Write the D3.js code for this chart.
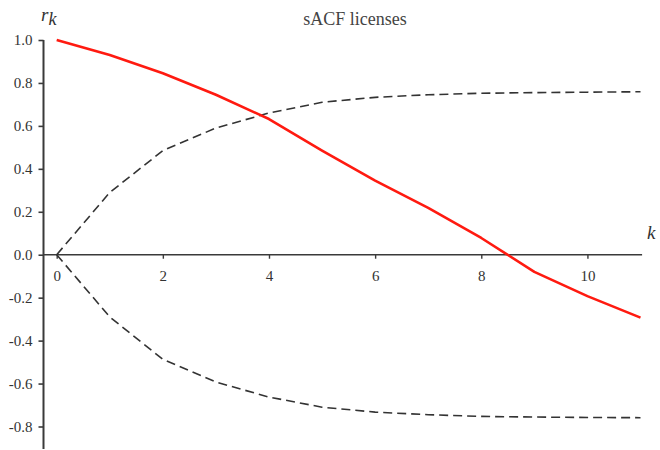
<!DOCTYPE html>
<html>
<head>
<meta charset="utf-8">
<script src="https://cdn.jsdelivr.net/npm/d3@7"></script>
<style>
  html, body { margin: 0; padding: 0; background: #fff; }
  svg { display: block; }
  text { font-family: "Liberation Serif", "Times New Roman", serif; }
</style>
</head>
<body>
<svg id="chart" width="660" height="450"></svg>
<script>
// Sample autocorrelation of licenses, lags 0..11
const lags = [0, 1, 2, 3, 4, 5, 6, 7, 8, 9, 10, 11];
const acf = [1.0, 0.93, 0.845, 0.745, 0.632, 0.485, 0.345, 0.218, 0.078, -0.08, -0.193, -0.293];
// Approximate confidence bounds
const upperBound = [0, 0.29, 0.485, 0.59, 0.66, 0.71, 0.733, 0.745, 0.752, 0.755, 0.757, 0.759];
const lowerBound = [0, -0.29, -0.487, -0.593, -0.663, -0.71, -0.733, -0.745, -0.753, -0.756, -0.758, -0.759];
const xTicks = [0, 2, 4, 6, 8, 10];
const yTicks = [1.0, 0.8, 0.6, 0.4, 0.2, 0.0, -0.2, -0.4, -0.6, -0.8];

const svg = d3.select("#chart");
const x = d3.scaleLinear().domain([0, 11]).range([56.7, 640.5]);
const y = d3.scaleLinear().domain([-0.8, 1.0]).range([426.5, 40]);

const axisColor = "#3a3a3a";
const labelColor = "#333";
const serif = "'Liberation Serif', 'Times New Roman', serif";
const fmtY = d => d3.format(".1f")(d).replace("\u2212", "-");

// Vertical axis
const yAxis = svg.append("g").attr("transform", `translate(${43.5},0)`)
  .call(d3.axisLeft(y).tickValues(yTicks).tickSize(5).tickPadding(6).tickFormat(fmtY))
  .attr("font-family", serif)
  .attr("font-size", 15);
yAxis.select(".domain").remove();
yAxis.append("line")
  .attr("x1", 0).attr("x2", 0)
  .attr("y1", y(1.0)).attr("y2", y(-0.905))
  .attr("stroke", axisColor).attr("stroke-width", 2);
yAxis.selectAll(".tick line").attr("stroke", axisColor).attr("stroke-width", 1.6);
yAxis.selectAll(".tick text").attr("fill", labelColor);

// Horizontal axis through zero
const xAxis = svg.append("g").attr("transform", `translate(0,${y(0)})`)
  .call(d3.axisBottom(x).tickValues(xTicks).tickSize(4).tickPadding(12)
    .tickFormat(d3.format("d")))
  .attr("font-family", serif)
  .attr("font-size", 15);
xAxis.select(".domain").remove();
xAxis.append("line")
  .attr("x1", 43.5).attr("x2", x(11.03))
  .attr("y1", 0).attr("y2", 0)
  .attr("stroke", axisColor).attr("stroke-width", 1.5);
xAxis.selectAll(".tick line").attr("stroke", axisColor).attr("stroke-width", 1.4);
xAxis.selectAll(".tick text").attr("fill", labelColor);

// Confidence bounds
const line = d3.line().x((d, i) => x(lags[i])).y(d => y(d));
[upperBound, lowerBound].forEach(b => {
  svg.append("path")
    .datum(b)
    .attr("d", line)
    .attr("fill", "none")
    .attr("stroke", "#333")
    .attr("stroke-width", 1.6)
    .attr("stroke-dasharray", "9,5");
});

// Autocorrelation line
svg.append("path")
  .datum(acf)
  .attr("d", line)
  .attr("fill", "none")
  .attr("stroke", "#ff1a10")
  .attr("stroke-width", 2.6)
  .attr("stroke-linejoin", "round");

// Title
svg.append("text")
  .attr("x", 355).attr("y", 25)
  .attr("text-anchor", "middle")
  .attr("fill", "#444")
  .style("font-size", "18px")
  .text("sACF licenses");

// Axis labels
const rk = svg.append("text")
  .attr("x", 41).attr("y", 21)
  .attr("fill", "#333")
  .style("font-size", "19px")
  .style("font-style", "italic");
rk.append("tspan").text("r");
rk.append("tspan").attr("dy", 4).style("font-size", "18px").text("k");

svg.append("text")
  .attr("x", 647).attr("y", 239)
  .attr("fill", "#333")
  .style("font-size", "19px")
  .style("font-style", "italic")
  .text("k");
</script>
</body>
</html>
